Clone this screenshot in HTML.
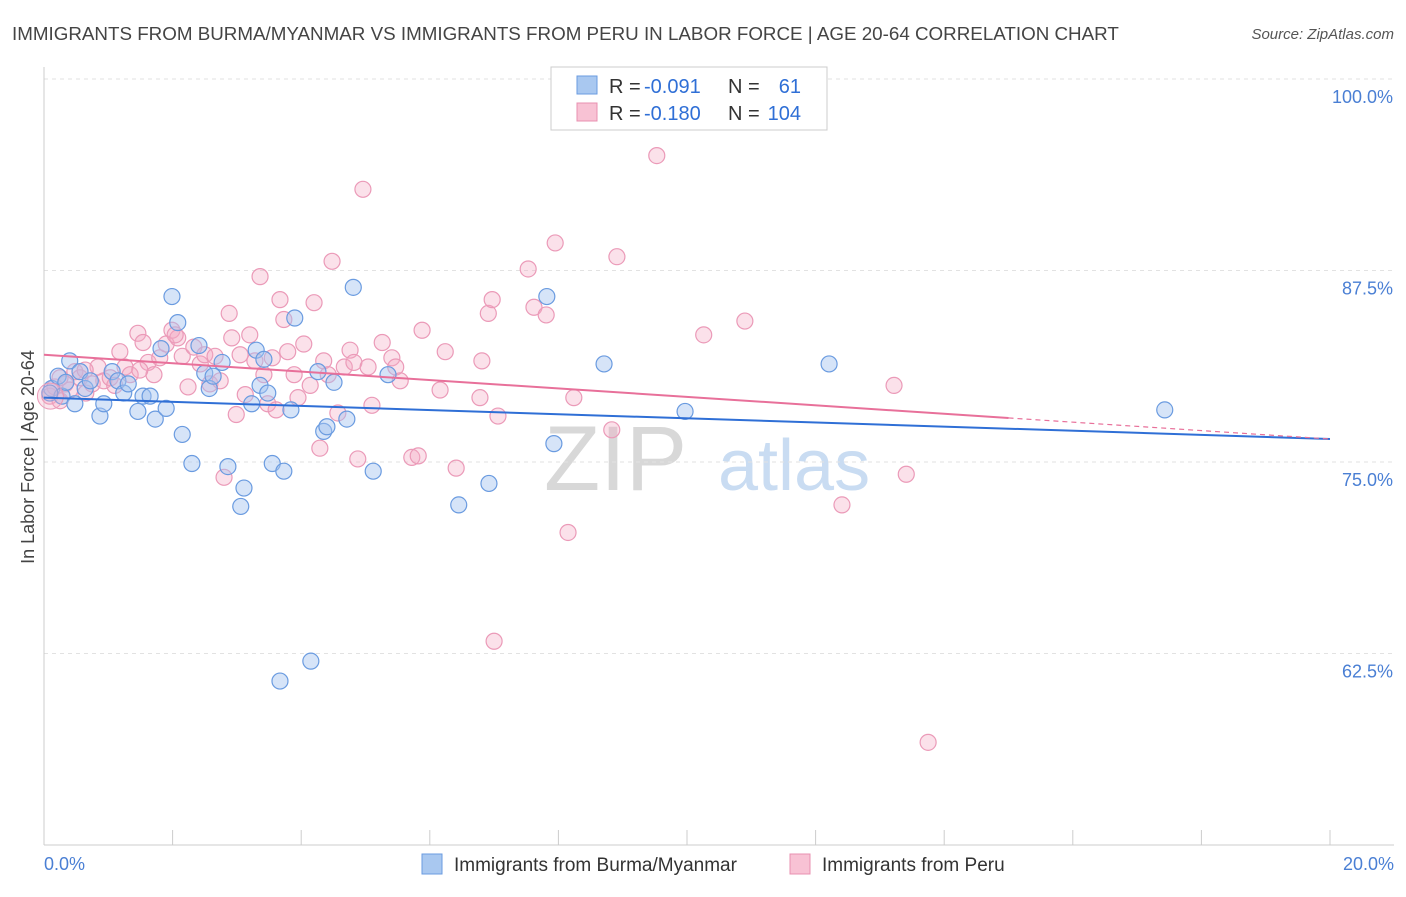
<!DOCTYPE html>
<html><head><meta charset="utf-8"><style>
body{margin:0;background:#fff;font-family:"Liberation Sans",sans-serif;}
svg text{font-family:"Liberation Sans",sans-serif;}
</style></head><body>
<svg id="chart" width="1406" height="892" xmlns="http://www.w3.org/2000/svg">
<text x="12" y="40" font-size="18.8" fill="#444">IMMIGRANTS FROM BURMA/MYANMAR VS IMMIGRANTS FROM PERU IN LABOR FORCE | AGE 20-64 CORRELATION CHART</text>
<text x="1394" y="39" font-size="15" fill="#555" font-style="italic" text-anchor="end">Source: ZipAtlas.com</text>
<g>
<text x="544" y="490" font-size="92" fill="#d8d8d8" font-family="Liberation Serif" >ZIP</text>
<text x="718" y="490" font-size="72" fill="#c9dcf2">atlas</text>
</g>
<text transform="translate(34,457) rotate(-90)" font-size="18" fill="#444" text-anchor="middle">In Labor Force | Age 20-64</text>
<g id="grid"></g><g id="axes"></g><g id="pts"></g><g id="trend"></g>
<g>
<rect x="551" y="67" width="276" height="63" fill="#fff" stroke="#ccc"/>
<rect x="577" y="76" width="20" height="18" fill="#a9c8f0" stroke="#6a9be0"/>
<text x="609" y="93" font-size="20" fill="#333">R =</text>
<text x="644" y="93" font-size="20" fill="#2f6fd6">-0.091</text>
<text x="728" y="93" font-size="20" fill="#333">N =</text>
<text x="801" y="93" font-size="20" fill="#2f6fd6" text-anchor="end">61</text>
<rect x="577" y="103" width="20" height="18" fill="#f8c2d4" stroke="#e890b0"/>
<text x="609" y="120" font-size="20" fill="#333">R =</text>
<text x="644" y="120" font-size="20" fill="#2f6fd6">-0.180</text>
<text x="728" y="120" font-size="20" fill="#333">N =</text>
<text x="801" y="120" font-size="20" fill="#2f6fd6" text-anchor="end">104</text>
</g>
<g>
<rect x="422" y="854" width="20" height="20" fill="#a9c8f0" stroke="#6a9be0"/>
<text x="454" y="871" font-size="19" fill="#333">Immigrants from Burma/Myanmar</text>
<rect x="790" y="854" width="20" height="20" fill="#f8c2d4" stroke="#e890b0"/>
<text x="822" y="871" font-size="19" fill="#333">Immigrants from Peru</text>
</g>
</svg>
<script>
const yTicks=[100,87.5,75,62.5];
const yTickLabels=["100.0%","87.5%","75.0%","62.5%"];
const xTickLabels=["0.0%","20.0%"];
const burmaX=[0.12,0.22,0.28,0.34,0.40,0.48,0.56,0.64,0.72,0.87,0.93,1.06,1.15,1.24,1.31,1.46,1.54,1.65,1.73,1.82,1.90,1.99,2.08,2.15,2.30,2.41,2.50,2.57,2.63,2.77,2.86,3.06,3.11,3.23,3.30,3.36,3.42,3.48,3.55,3.73,3.84,3.90,3.67,4.15,4.26,4.35,4.40,4.51,4.71,4.81,5.12,5.35,6.45,6.92,7.82,7.93,8.71,9.97,12.21,17.43,0.09];
const burmaY=[79.8,80.6,79.3,80.2,81.6,78.8,80.9,79.8,80.3,78.0,78.8,80.9,80.3,79.5,80.1,78.3,79.3,79.3,77.8,82.4,78.5,85.8,84.1,76.8,74.9,82.6,80.8,79.8,80.6,81.5,74.7,72.1,73.3,78.8,82.3,80.0,81.7,79.5,74.9,74.4,78.4,84.4,60.7,62.0,80.9,77.0,77.3,80.2,77.8,86.4,74.4,80.7,72.2,73.6,85.8,76.2,81.4,78.3,81.4,78.4,79.5];
const peruX=[0.09,0.17,0.25,0.33,0.40,0.48,0.56,0.65,0.75,0.84,0.93,1.03,1.10,1.18,1.26,1.34,1.46,1.54,1.62,1.71,1.80,1.90,1.99,2.08,2.15,2.24,2.33,2.43,2.50,2.58,2.66,2.74,2.80,2.88,2.92,2.99,3.05,3.13,3.20,3.28,3.36,3.42,3.48,3.55,3.61,3.67,3.73,3.79,3.89,3.95,4.04,4.14,4.20,4.29,4.35,4.42,4.48,4.57,4.67,4.76,4.82,4.88,4.96,5.04,5.10,5.26,5.41,5.47,5.54,5.72,5.82,5.88,6.16,6.24,6.41,6.78,6.81,6.91,6.97,7.06,7.53,7.62,7.81,7.95,8.24,8.15,8.83,8.91,9.53,7.00,10.26,10.90,12.41,13.22,13.41,13.75,0.25,0.64,1.49,2.04];
const peruY=[79.3,79.9,79.0,80.1,79.7,80.9,80.5,79.5,80.1,81.2,80.3,80.5,80.0,82.2,81.2,80.7,83.4,82.8,81.5,80.7,81.8,82.7,83.6,83.1,81.9,79.9,82.5,81.4,82.0,80.1,81.9,80.3,74.0,84.7,83.1,78.1,82.0,79.4,83.3,81.6,87.1,80.7,78.8,81.8,78.4,85.6,84.3,82.2,80.7,79.2,82.7,80.0,85.4,75.9,81.6,80.7,88.1,78.2,81.2,82.3,81.5,75.2,92.8,81.2,78.7,82.8,81.8,81.2,80.3,75.3,75.4,83.6,79.7,82.2,74.6,79.2,81.6,84.7,85.6,78.0,87.6,85.1,84.6,89.3,79.2,70.4,77.1,88.4,95.0,63.3,83.3,84.2,72.2,80.0,74.2,56.7,80.5,81.0,81.0,83.3];
const burmaTrend=[79.2,76.5];
const peruTrend=[82.0,76.5];
const peruSolidEnd=15.0;

const NS="http://www.w3.org/2000/svg";
const X=v=>44+v/20*1286;
const Y=v=>79+(100-v)/50*766;
function mk(tag,attrs,parent){const e=document.createElementNS(NS,tag);for(const k in attrs)e.setAttribute(k,attrs[k]);parent.appendChild(e);return e;}
const grid=document.getElementById('grid'),axes=document.getElementById('axes'),pts=document.getElementById('pts'),tr=document.getElementById('trend');
yTicks.forEach((t,i)=>{
 const l=mk('line',{x1:44,x2:1394,y1:Y(t),y2:Y(t),stroke:'#e2e2e2','stroke-dasharray':'4,4'},grid);
 
 
 const tx=mk('text',{x:1393,y:Y(t)+24,'font-size':18,fill:'#4a7fd4','text-anchor':'end'},grid);
 tx.textContent=yTickLabels[i];
 
 
});
const ax=mk('line',{x1:44,x2:1394,y1:845,y2:845,stroke:'#ccc'},axes);


const ay=mk('line',{x1:44,x2:44,y1:67,y2:845,stroke:'#ccc'},axes);


for(let i=0;i<=10;i++){
 const t=mk('line',{x1:X(i*2),x2:X(i*2),y1:830,y2:845,stroke:'#ccc'},axes);
 
 
}
[[0,'start',44],[20,'end',1394]].forEach((a,i)=>{
 const tx=mk('text',{x:a[2],y:870,'font-size':18,fill:'#4a7fd4','text-anchor':a[1]},axes);
 tx.textContent=xTickLabels[i];
 
 
});
peruX.forEach((v,i)=>{
 const c=mk('circle',{cx:X(v),cy:Y(peruY[i]),r:8,fill:'rgba(244,170,196,0.35)',stroke:'#eb9ab8','stroke-width':1.2},pts);
 
 
});
burmaX.forEach((v,i)=>{
 const c=mk('circle',{cx:X(v),cy:Y(burmaY[i]),r:8,fill:'rgba(164,196,240,0.45)',stroke:'#6a9be0','stroke-width':1.2},pts);
 
 
});
const big=mk('circle',{cx:X(0.1),cy:Y(79.3),r:13,fill:'rgba(244,170,196,0.3)',stroke:'#eb9ab8'},pts);


const pv=x=>peruTrend[0]+(peruTrend[1]-peruTrend[0])*x/20;
const bl=mk('line',{x1:X(0),y1:Y(burmaTrend[0]),x2:X(20),y2:Y(burmaTrend[1]),stroke:'#2f6fd6','stroke-width':2},tr);


const pl=mk('line',{x1:X(0),y1:Y(pv(0)),x2:X(peruSolidEnd),y2:Y(pv(peruSolidEnd)),stroke:'#e8709a','stroke-width':2},tr);


const pd=mk('line',{x1:X(peruSolidEnd),y1:Y(pv(peruSolidEnd)),x2:X(20),y2:Y(pv(20)),stroke:'#e8709a','stroke-width':1.2,'stroke-dasharray':'5,4'},tr);


</script>
</body></html>
